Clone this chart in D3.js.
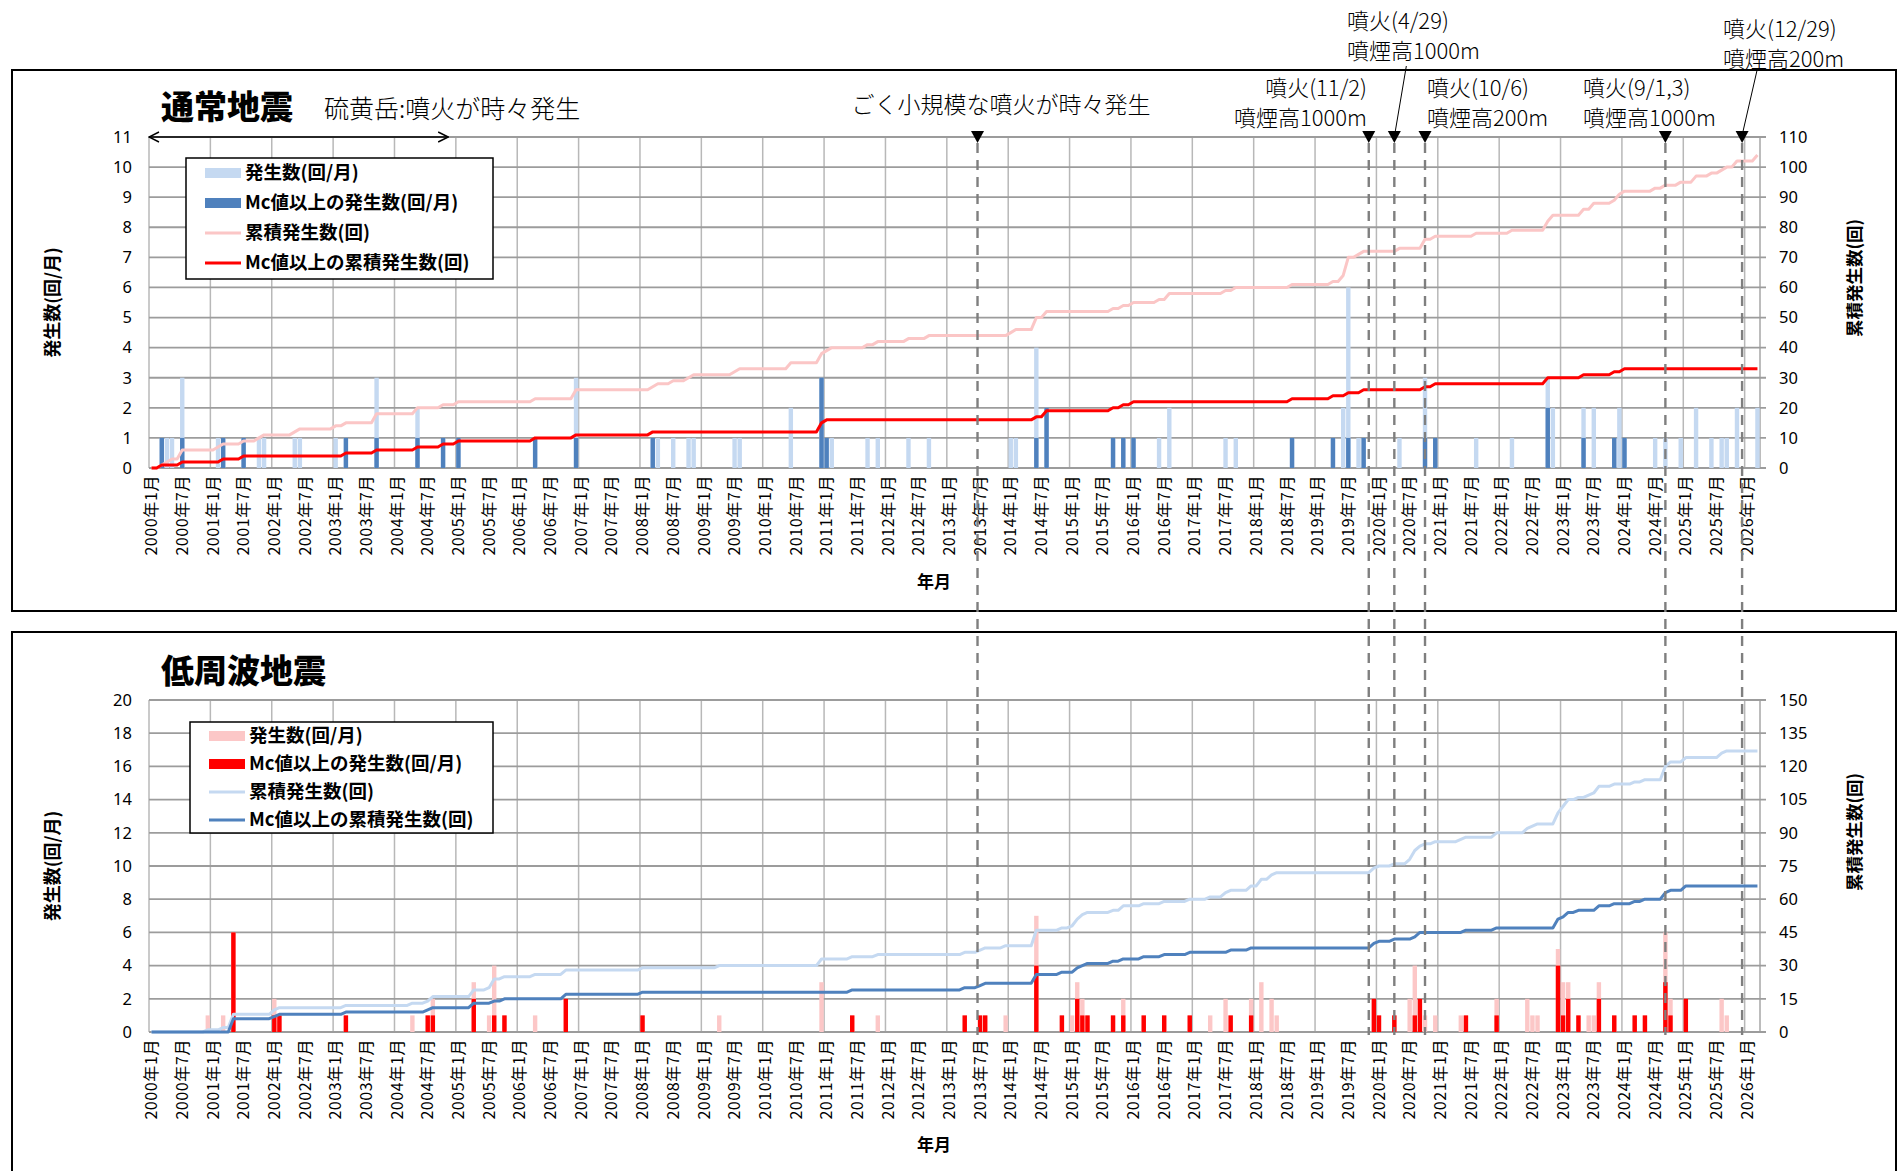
<!DOCTYPE html>
<html>
<head>
<meta charset="utf-8">
<script src="https://cdn.jsdelivr.net/npm/d3@7/dist/d3.min.js"></script>
<style>
  body { margin: 0; background: #fff; }
  text { font-family: "Noto Sans CJK JP", "Noto Sans", sans-serif; }
</style>
</head>
<body>
<svg id="chart" width="1897" height="1171"></svg>
<script>
// Monthly counts, 2000-01 .. 2026-03 (months without events are zero)
const firstYear = 2000;
const monthCount = 315;

// 通常地震: all events per month
const normalAll = [
  ["2000-03",1],["2000-04",1],["2000-05",1],["2000-07",3],["2001-02",1],["2001-03",1],
  ["2001-07",1],["2001-10",1],["2001-11",1],["2002-05",1],["2002-06",1],["2003-01",1],
  ["2003-03",1],["2003-09",3],["2004-05",2],["2004-10",1],["2005-01",1],["2006-04",1],
  ["2006-12",3],["2008-03",1],["2008-04",1],["2008-07",1],["2008-10",1],["2008-11",1],
  ["2009-07",1],["2009-08",1],["2010-06",2],["2010-12",3],["2011-01",1],["2011-02",1],
  ["2011-09",1],["2011-11",1],["2012-05",1],["2012-09",1],["2014-01",1],["2014-02",1],
  ["2014-06",4],["2014-08",2],["2015-09",1],["2015-11",1],["2016-01",1],["2016-06",1],
  ["2016-08",2],["2017-07",1],["2017-09",1],["2018-08",1],["2019-04",1],["2019-06",2],
  ["2019-07",6],["2019-09",1],["2019-10",1],["2020-05",1],["2020-10",3],["2020-12",1],
  ["2021-08",1],["2022-03",1],["2022-10",3],["2022-11",2],["2023-05",2],["2023-07",2],
  ["2023-11",1],["2023-12",2],["2024-01",1],["2024-07",1],["2024-09",1],["2024-12",1],
  ["2025-03",2],["2025-06",1],["2025-08",1],["2025-09",1],["2025-11",2],["2026-03",2]
];
// 通常地震: events at or above Mc
const normalMc = [
  ["2000-03",1],["2000-07",1],["2001-03",1],["2001-07",1],["2003-03",1],["2003-09",1],
  ["2004-05",1],["2004-10",1],["2005-01",1],["2006-04",1],["2006-12",1],["2008-03",1],
  ["2010-12",3],["2011-01",1],["2014-06",1],["2014-08",2],["2015-09",1],["2015-11",1],
  ["2016-01",1],["2018-08",1],["2019-04",1],["2019-07",1],["2019-10",1],["2020-10",1],
  ["2020-12",1],["2022-10",2],["2023-05",1],["2023-11",1],["2024-01",1]
];
// 低周波地震: all events per month
const lowAll = [
  ["2000-12",1],["2001-03",1],["2001-05",6],["2002-01",2],["2002-02",1],["2003-03",1],
  ["2004-04",1],["2004-07",1],["2004-08",2],["2005-04",3],["2005-07",1],["2005-08",4],
  ["2005-10",1],["2006-04",1],["2006-10",2],["2008-01",1],["2009-04",1],["2010-12",3],
  ["2011-06",1],["2011-11",1],["2013-04",1],["2013-07",1],["2013-08",1],["2013-12",1],
  ["2014-06",7],["2014-11",1],["2015-01",1],["2015-02",3],["2015-03",2],["2015-04",1],
  ["2015-09",1],["2015-11",2],["2016-03",1],["2016-07",1],["2016-12",1],["2017-04",1],
  ["2017-07",2],["2017-08",1],["2017-12",2],["2018-02",3],["2018-04",2],["2018-05",1],
  ["2019-12",2],["2020-01",1],["2020-04",1],["2020-07",2],["2020-08",4],["2020-09",2],
  ["2020-10",1],["2020-12",1],["2021-05",1],["2021-06",1],["2021-12",2],["2022-06",2],
  ["2022-07",1],["2022-08",1],["2022-12",5],["2023-01",3],["2023-02",3],["2023-04",1],
  ["2023-06",1],["2023-07",1],["2023-08",3],["2023-11",1],["2024-03",1],["2024-05",1],
  ["2024-09",6],["2024-10",2],["2025-01",2],["2025-08",2],["2025-09",1]
];
// 低周波地震: events at or above Mc
const lowMc = [
  ["2001-05",6],["2002-01",1],["2002-02",1],["2003-03",1],["2004-07",1],["2004-08",1],
  ["2005-04",2],["2005-08",1],["2005-10",1],["2006-10",2],["2008-01",1],["2011-06",1],
  ["2013-04",1],["2013-07",1],["2013-08",1],["2014-06",4],["2014-11",1],["2015-02",2],
  ["2015-03",1],["2015-04",1],["2015-09",1],["2015-11",1],["2016-03",1],["2016-07",1],
  ["2016-12",1],["2017-08",1],["2017-12",1],["2019-12",2],["2020-01",1],["2020-04",1],
  ["2020-08",1],["2020-09",2],["2021-06",1],["2021-12",1],["2022-12",4],["2023-01",1],
  ["2023-02",2],["2023-04",1],["2023-08",2],["2023-11",1],["2024-03",1],["2024-05",1],
  ["2024-09",3],["2024-10",1],["2025-01",2]
];

// Eruption markers: the small-eruption period starts at the beginning of 2013-07,
// the individual eruptions are placed mid-month
const smallEruptionMonth = "2013-07";
const eruptionMonths = ["2019-11","2020-04","2020-10","2024-09","2025-12"];

const legendNormal = ["発生数(回/月)","Mc値以上の発生数(回/月)","累積発生数(回)","Mc値以上の累積発生数(回)"];
const legendLow = legendNormal;

// ---------------------------------------------------------------
const months = d3.range(monthCount).map(i =>
  `${firstYear + Math.floor(i / 12)}-${String(i % 12 + 1).padStart(2, "0")}`);
const monthLabel = k => `${+k.slice(0, 4)}年${+k.slice(5)}月`;
const toSeries = ev => { const m = new Map(ev); return months.map(k => m.get(k) || 0); };

const svg = d3.select("#chart");
svg.append("rect").attr("width", 1897).attr("height", 1171).attr("fill", "#fff");

const x = d3.scaleBand().domain(months).range([149, 1760]).padding(0);
const bw = x.bandwidth();
const cx = k => x(k) + bw / 2;

const panels = [
  {
    box: [12, 70, 1884, 541], title: "通常地震", titleY: 107,
    y0: 468, y1: 137, leftMax: 11, leftStep: 1, rightMax: 110, rightStep: 10,
    all: normalAll, mc: normalMc,
    barLight: "#c5d9f1", barDark: "#4f81bd", lineLight: "#fbc6c6", lineDark: "#ff0000",
    legend: { x: 186, y: 158, w: 307, h: 121, row: 30, first: 173 },
    labels: legendNormal, rightTitleY: 278, yearTitleY: 582
  },
  {
    box: [12, 632, 1884, 600], title: "低周波地震", titleY: 671,
    y0: 1032, y1: 700, leftMax: 20, leftStep: 2, rightMax: 150, rightStep: 15,
    all: lowAll, mc: lowMc,
    barLight: "#fcc7c7", barDark: "#ff0000", lineLight: "#c5d9f1", lineDark: "#4f81bd",
    legend: { x: 190, y: 722, w: 303, h: 111, row: 28, first: 736 },
    labels: legendLow, rightTitleY: 832, yearTitleY: 1145
  }
];

panels.forEach(p => {
  const g = svg.append("g");
  g.append("rect").attr("x", p.box[0]).attr("y", p.box[1])
    .attr("width", p.box[2]).attr("height", p.box[3])
    .attr("fill", "#fff").attr("stroke", "#000").attr("stroke-width", 2);

  const yL = d3.scaleLinear().domain([0, p.leftMax]).range([p.y0, p.y1]);
  const yR = d3.scaleLinear().domain([0, p.rightMax]).range([p.y0, p.y1]);

  // vertical grid at each January
  const jan = months.filter((k, i) => i % 12 === 0);
  g.selectAll(".vg").data(jan).join("line")
    .attr("x1", d => x(d)).attr("x2", d => x(d))
    .attr("y1", p.y1).attr("y2", p.y0)
    .attr("stroke", "#b8b8b8").attr("stroke-width", 1.5);
  g.append("line").attr("x1", 1760).attr("x2", 1760).attr("y1", p.y1).attr("y2", p.y0)
    .attr("stroke", "#a6a6a6").attr("stroke-width", 1.5);

  // horizontal grid + right ticks
  const lt = d3.range(0, p.leftMax + 0.001, p.leftStep);
  g.selectAll(".hg").data(lt).join("line")
    .attr("x1", 149).attr("x2", 1766)
    .attr("y1", d => yL(d)).attr("y2", d => yL(d))
    .attr("stroke", "#9c9c9c").attr("stroke-width", 1.8);

  g.selectAll(".lt").data(lt).join("text")
    .attr("x", 132).attr("y", d => yL(d)).attr("dy", "0.35em")
    .attr("text-anchor", "end").attr("font-size", 16.5)
    .style("font-family", "'Noto Sans', sans-serif").text(d => d);

  const rt = d3.range(0, p.rightMax + 0.001, p.rightStep);
  g.selectAll(".rt").data(rt).join("text")
    .attr("x", 1779).attr("y", d => yR(d)).attr("dy", "0.35em")
    .attr("text-anchor", "start").attr("font-size", 16.5)
    .style("font-family", "'Noto Sans', sans-serif").text(d => d);

  // bars
  const all = toSeries(p.all), mc = toSeries(p.mc);
  const barW = bw * 0.86;
  g.selectAll(".bl").data(months.map((k, i) => [k, all[i]]).filter(d => d[1] > 0)).join("rect")
    .attr("x", d => cx(d[0]) - barW / 2).attr("width", barW)
    .attr("y", d => yL(d[1])).attr("height", d => yL(0) - yL(d[1]))
    .attr("fill", p.barLight);
  g.selectAll(".bd").data(months.map((k, i) => [k, mc[i]]).filter(d => d[1] > 0)).join("rect")
    .attr("x", d => cx(d[0]) - barW / 2).attr("width", barW)
    .attr("y", d => yL(d[1])).attr("height", d => yL(0) - yL(d[1]))
    .attr("fill", p.barDark);

  // cumulative lines
  const cumAll = Array.from(d3.cumsum(all)), cumMc = Array.from(d3.cumsum(mc));
  const line = d3.line().x((d, i) => cx(months[i])).y(d => yR(d));
  g.append("path").datum(cumAll).attr("d", line).attr("fill", "none")
    .attr("stroke", p.lineLight).attr("stroke-width", 3).attr("stroke-linejoin", "round");
  g.append("path").datum(cumMc).attr("d", line).attr("fill", "none")
    .attr("stroke", p.lineDark).attr("stroke-width", 3).attr("stroke-linejoin", "round");

  // x tick labels every 6 months
  const lab = months.filter((k, i) => i % 6 === 0);
  g.selectAll(".xl").data(lab).join("text")
    .attr("transform", d => `translate(${cx(d)},${p.y0 + 7}) rotate(-90)`)
    .attr("text-anchor", "end").attr("dy", "0.35em").attr("font-size", 16)
    .attr("letter-spacing", 0.6)
    .text(d => monthLabel(d));

  // titles
  g.append("text").attr("x", 161).attr("y", p.titleY).attr("dy", "0.35em")
    .attr("font-size", 33).attr("font-weight", 900).text(p.title);
  g.append("text").attr("transform", `translate(53,${(p.y0 + p.y1) / 2}) rotate(-90)`)
    .attr("text-anchor", "middle").attr("dy", "0.35em")
    .attr("font-size", 18).attr("font-weight", 700).text("発生数(回/月)");
  g.append("text").attr("transform", `translate(1855,${p.rightTitleY}) rotate(-90)`)
    .attr("text-anchor", "middle").attr("dy", "0.35em")
    .attr("font-size", 17.5).attr("font-weight", 700).text("累積発生数(回)");
  g.append("text").attr("x", 934).attr("y", p.yearTitleY).attr("dy", "0.35em")
    .attr("text-anchor", "middle").attr("font-size", 17).attr("font-weight", 700).text("年月");

  // legend
  const L = p.legend;
  const lg = g.append("g");
  lg.append("rect").attr("x", L.x).attr("y", L.y).attr("width", L.w).attr("height", L.h)
    .attr("fill", "#fff").attr("stroke", "#000").attr("stroke-width", 1.5);
  const kinds = [["bar", p.barLight], ["bar", p.barDark], ["line", p.lineLight], ["line", p.lineDark]];
  kinds.forEach((kd, i) => {
    const ry = L.first + i * L.row;
    if (kd[0] === "bar") {
      lg.append("rect").attr("x", L.x + 19).attr("y", ry - 5).attr("width", 36).attr("height", 10).attr("fill", kd[1]);
    } else {
      lg.append("line").attr("x1", L.x + 19).attr("x2", L.x + 55).attr("y1", ry).attr("y2", ry)
        .attr("stroke", kd[1]).attr("stroke-width", 3);
    }
    lg.append("text").attr("x", L.x + 59).attr("y", ry).attr("dy", "0.35em")
      .attr("font-size", 18.5).attr("font-weight", 700).text(p.labels[i]);
  });
});

// ---------------------------------------------------------------
// annotations across both panels
const ann = svg.append("g");
const topY = panels[0].y1;

// activity period arrow
const defs = svg.append("defs");
defs.append("marker").attr("id", "chev").attr("viewBox", "0 0 12 12").attr("refX", 11).attr("refY", 6)
  .attr("markerWidth", 12).attr("markerHeight", 12).attr("markerUnits", "userSpaceOnUse")
  .attr("orient", "auto-start-reverse")
  .append("path").attr("d", "M1,1 L11,6 L1,11").attr("fill", "none").attr("stroke", "#000").attr("stroke-width", 1.4);
ann.append("line").attr("x1", x("2000-01")).attr("x2", cx("2004-11")).attr("y1", topY).attr("y2", topY)
  .attr("stroke", "#000").attr("stroke-width", 1.6)
  .attr("marker-start", "url(#chev)").attr("marker-end", "url(#chev)");

// dashed eruption lines with triangles
const markers = [
  { k: smallEruptionMonth, px: x(smallEruptionMonth) },
  ...eruptionMonths.map(k => ({ k, px: cx(k) }))
];
ann.selectAll(".dl").data(markers).join("line")
  .attr("x1", d => d.px).attr("x2", d => d.px)
  .attr("y1", topY + 6).attr("y2", panels[1].y0 + 3)
  .attr("stroke", "#7f7f7f").attr("stroke-width", 2.4).attr("stroke-dasharray", "10,7");
ann.selectAll(".tri").data(markers).join("path")
  .attr("d", d => `M${d.px - 6.5},${topY - 6} L${d.px + 6.5},${topY - 6} L${d.px},${topY + 6} Z`)
  .attr("fill", "#000");

const mincho = "'Noto Sans CJK JP', sans-serif";
function note(lines, xPos, yPos, anchor, size) {
  lines.forEach((t, i) => {
    ann.append("text").attr("x", xPos).attr("y", yPos + i * 30).attr("dy", "0.35em")
      .attr("text-anchor", anchor).attr("font-size", size || 22).attr("font-weight", 300)
      .style("font-family", mincho).text(t);
  });
}
note(["硫黄岳:噴火が時々発生"], 324, 109, "start", 25);
note(["ごく小規模な噴火が時々発生"], 1001, 105, "middle", 23);
note(["噴火(11/2)", "噴煙高1000m"], 1367, 88, "end");
note(["噴火(4/29)", "噴煙高1000m"], 1347, 21, "start");
note(["噴火(10/6)", "噴煙高200m"], 1427, 88, "start");
note(["噴火(9/1,3)", "噴煙高1000m"], 1583, 88, "start");
note(["噴火(12/29)", "噴煙高200m"], 1723, 29, "start");

// leader lines to the marker triangles
ann.append("line").attr("x1", cx("2020-04") + 12).attr("y1", 66).attr("x2", cx("2020-04") + 1).attr("y2", topY - 6)
  .attr("stroke", "#000").attr("stroke-width", 1);
ann.append("line").attr("x1", cx("2025-12") + 15).attr("y1", 70).attr("x2", cx("2025-12") + 1).attr("y2", topY - 6)
  .attr("stroke", "#000").attr("stroke-width", 1);
</script>
</body>
</html>
